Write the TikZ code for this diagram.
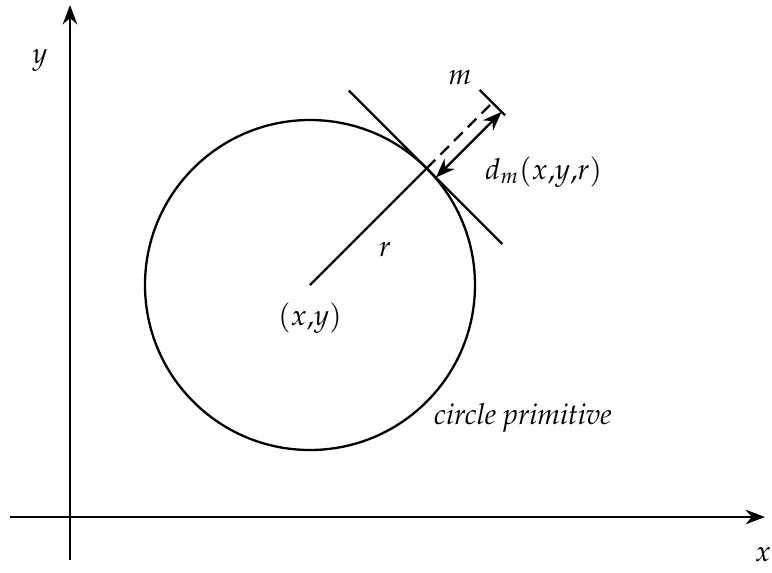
\documentclass[tikz,border=0pt]{standalone}
\usepackage[T1]{fontenc}
\usepackage{mathpazo}
\usetikzlibrary{arrows.meta,calc}

\begin{document}
\begin{tikzpicture}[x=1.45cm,y=1.45cm,line width=0.95pt,
    >={Stealth[length=8pt,width=6pt]},
    every node/.style={font=\large}]

    \useasboundingbox (-0.70,-0.55) rectangle (7.02,5.17);

    % Axes
    \coordinate (xstart) at (-0.60,0);
    \coordinate (xend) at (6.95,0);
    \coordinate (ystart) at (0,-0.43);
    \coordinate (yend) at (0,5.12);
    \draw[->] (xstart) -- (xend);
    \draw[->] (ystart) -- (yend);
    \node (xlabel) at (6.93,-0.38) {$x$};
    \node (ylabel) at (-0.30,4.57) {$y$};

    % Circle and radius
    \coordinate (c) at (2.40,2.32);
    \coordinate (t) at ($(c)+(45:1.65)$);
    \draw (c) circle (1.65);
    \draw (c) -- (t);
    \node (rlabel) at (3.15,2.67) {$r$};
    \node (clabel) at (2.40,1.99) {$(x{,}y)$};
    \node (plabel) at (4.53,0.99) {\textit{circle primitive}};

    % Tangent line at the circle
    \coordinate (tA) at ($(t)+(135:1.10)$);
    \coordinate (tB) at ($(t)+(-45:1.07)$);
    \draw (tA) -- (tB);

    % Point m and distance
    \coordinate (m) at ($(c)+(45:2.58)$);
    \coordinate (mA) at ($(m)+(135:0.18)$);
    \coordinate (mB) at ($(m)+(-45:0.18)$);
    \draw (mA) -- (mB);
    \draw[dash pattern=on 5pt off 3pt] (t) -- (m);
    \node (mlabel) at (3.90,4.39) {$m$};

    \coordinate (dA) at ($(t)+(-45:0.13)$);
    \coordinate (dB) at ($(m)+(-45:0.13)$);
    \draw[<->] (dA) -- (dB);
    \node[anchor=west] (dlabel) at (4.06,3.45) {$d_m(x{,}y{,}r)$};

\end{tikzpicture}
\end{document}
